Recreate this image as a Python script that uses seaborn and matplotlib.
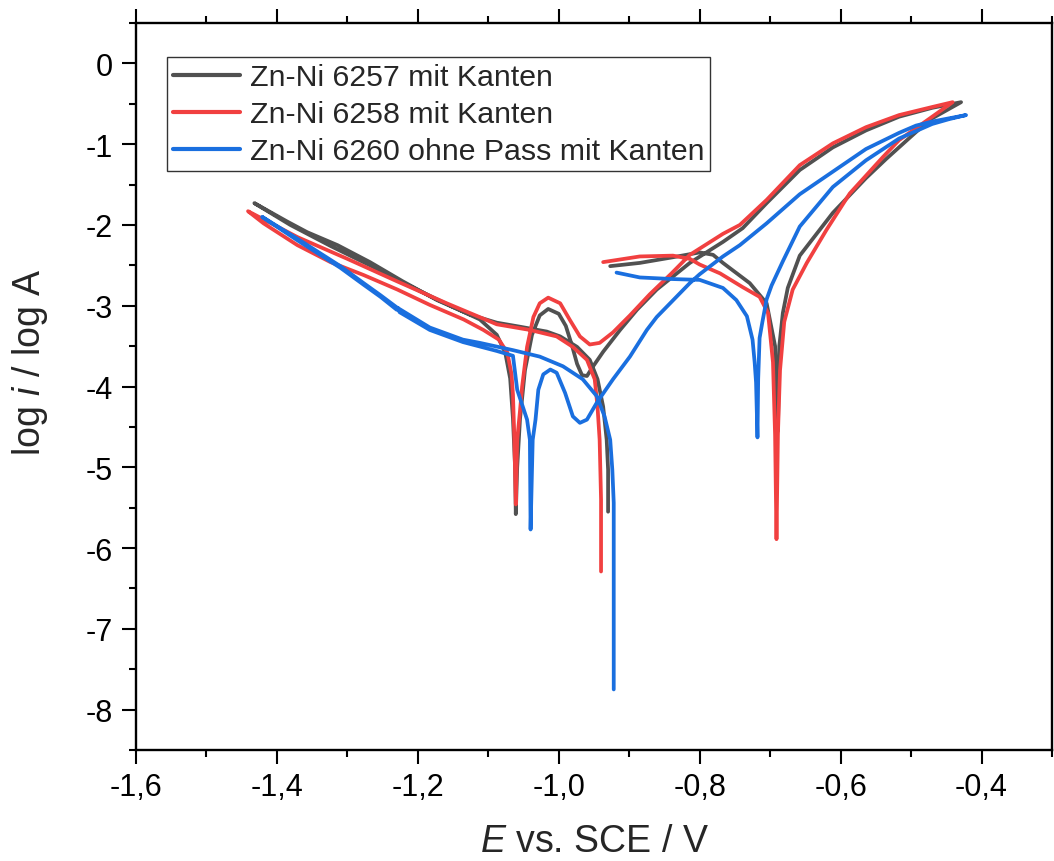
import numpy as np
import pandas as pd
import matplotlib
matplotlib.use("Agg")
import matplotlib.pyplot as plt
from matplotlib.ticker import MultipleLocator, FuncFormatter
import seaborn as sns

# Cyclic polarisation curves: OCP -> cathodic turn -> anodic turn -> back
e_6257 = [-0.930, -0.930, -0.932, -0.937, -0.945, -0.956, -0.974, -0.998, -1.017, -1.055,
          -1.088, -1.126, -1.173, -1.221, -1.268, -1.314, -1.357, -1.385, -1.432,
          -1.381, -1.324, -1.268, -1.211, -1.154, -1.112, -1.088, -1.076, -1.069, -1.065,
          -1.062, -1.061, -1.059, -1.055, -1.048, -1.038, -1.027, -1.015, -1.000, -0.990,
          -0.981, -0.974, -0.967, -0.960, -0.952, -0.937, -0.913, -0.889, -0.861, -0.814,
          -0.767, -0.739, -0.705, -0.658, -0.611, -0.564, -0.517, -0.470, -0.429,
          -0.470, -0.493, -0.535, -0.564, -0.611, -0.658, -0.675, -0.682, -0.687, -0.689,
          -0.693, -0.705, -0.729, -0.767, -0.781, -0.800, -0.838, -0.885, -0.927]
logi_6257 = [-5.55, -5.03, -4.66, -4.25, -3.91, -3.67, -3.51, -3.38, -3.32, -3.26,
             -3.21, -3.11, -2.93, -2.70, -2.46, -2.25, -2.09, -1.96, -1.73,
             -2.00, -2.26, -2.50, -2.76, -3.00, -3.17, -3.36, -3.58, -3.90, -4.40,
             -5.00, -5.58, -5.00, -4.40, -3.80, -3.36, -3.12, -3.04, -3.10, -3.25,
             -3.50, -3.72, -3.86, -3.87, -3.76, -3.57, -3.30, -3.05, -2.80, -2.47,
             -2.21, -2.04, -1.73, -1.32, -1.04, -0.83, -0.66, -0.55, -0.48,
             -0.68, -0.85, -1.18, -1.42, -1.85, -2.38, -2.78, -3.09, -3.50, -4.55,
             -3.50, -2.97, -2.72, -2.47, -2.37, -2.34, -2.40, -2.47, -2.51]

e_6258 = [-0.940, -0.940, -0.942, -0.945, -0.949, -0.960, -0.980, -1.003, -1.041, -1.088,
          -1.159, -1.229, -1.300, -1.371, -1.441,
          -1.419, -1.371, -1.324, -1.277, -1.229, -1.183, -1.135, -1.107, -1.085, -1.073,
          -1.067, -1.065, -1.063, -1.061, -1.059, -1.055, -1.052, -1.045, -1.036, -1.027,
          -1.015, -0.998, -0.984, -0.970, -0.956, -0.942, -0.923, -0.899, -0.871, -0.840,
          -0.814, -0.767, -0.743, -0.705, -0.658, -0.611, -0.564, -0.517, -0.470, -0.441,
          -0.470, -0.517, -0.540, -0.587, -0.620, -0.648, -0.668, -0.680, -0.686, -0.689,
          -0.691, -0.693, -0.696, -0.703, -0.715, -0.739, -0.771, -0.800, -0.814, -0.838,
          -0.885, -0.937]
logi_6258 = [-6.29, -5.40, -4.66, -4.25, -3.91, -3.67, -3.51, -3.38, -3.30, -3.23,
             -2.97, -2.70, -2.42, -2.15, -1.83,
             -1.98, -2.25, -2.46, -2.62, -2.80, -2.99, -3.17, -3.30, -3.42, -3.58,
             -3.85, -4.10, -4.66, -5.46, -4.66, -4.30, -4.00, -3.51, -3.14, -2.97,
             -2.90, -2.97, -3.18, -3.38, -3.48, -3.46, -3.33, -3.12, -2.86, -2.60,
             -2.37, -2.11, -2.00, -1.69, -1.26, -0.99, -0.79, -0.64, -0.54, -0.48,
             -0.66, -0.95, -1.16, -1.61, -2.06, -2.47, -2.80, -3.20, -3.80, -4.60,
             -5.89, -4.60, -3.70, -3.09, -2.89, -2.77, -2.60, -2.49, -2.42, -2.38,
             -2.39, -2.46]

e_6260 = [-0.922, -0.922, -0.922, -0.924, -0.927, -0.935, -0.946, -0.966, -0.994, -1.027,
          -1.065, -1.112, -1.136, -1.183, -1.230, -1.253, -1.277, -1.310, -1.371, -1.421,
          -1.371, -1.310, -1.277, -1.253, -1.230, -1.228, -1.226, -1.183, -1.136, -1.088,
          -1.065, -1.059, -1.045, -1.041, -1.040, -1.037, -1.033, -1.029, -1.022, -1.012,
          -1.003, -0.991, -0.980, -0.970, -0.960, -0.946, -0.923, -0.899, -0.875, -0.861,
          -0.814, -0.800, -0.767, -0.743, -0.705, -0.658, -0.611, -0.564, -0.517, -0.493,
          -0.470, -0.422,
          -0.446, -0.470, -0.517, -0.564, -0.611, -0.658, -0.682, -0.698, -0.705, -0.711,
          -0.715, -0.717, -0.718, -0.720, -0.722, -0.725, -0.733, -0.748, -0.767, -0.800,
          -0.838, -0.885, -0.918]
logi_6260 = [-7.75, -6.60, -5.44, -5.03, -4.66, -4.37, -4.12, -3.91, -3.75, -3.63,
             -3.55, -3.46, -3.42, -3.27, -3.02, -2.87, -2.72, -2.51, -2.17, -1.90,
             -2.19, -2.53, -2.74, -2.89, -3.05, -3.03, -3.08, -3.30, -3.45, -3.56,
             -3.62, -4.04, -4.41, -4.66, -5.77, -4.66, -4.41, -4.04, -3.85, -3.79,
             -3.83, -4.08, -4.37, -4.45, -4.41, -4.20, -3.91, -3.63, -3.30, -3.14,
             -2.72, -2.61, -2.39, -2.25, -1.98, -1.62, -1.34, -1.06, -0.86, -0.77,
             -0.72, -0.64,
             -0.69, -0.75, -0.93, -1.20, -1.53, -2.02, -2.45, -2.75, -2.92, -3.20,
             -3.40, -3.91, -4.63, -3.95, -3.70, -3.42, -3.13, -2.93, -2.78, -2.68,
             -2.67, -2.65, -2.59]

labels = ["Zn-Ni 6257 mit Kanten", "Zn-Ni 6258 mit Kanten", "Zn-Ni 6260 ohne Pass mit Kanten"]
colors = ["#515151", "#F14040", "#1A6FDF"]
x_ticks = [-1.6, -1.4, -1.2, -1.0, -0.8, -0.6, -0.4]
y_ticks = [0, -1, -2, -3, -4, -5, -6, -7, -8]

frames = []
for lab, e, li in zip(labels, [e_6257, e_6258, e_6260], [logi_6257, logi_6258, logi_6260]):
    frames.append(pd.DataFrame({"E": e, "logi": li, "Probe": lab, "idx": np.arange(len(e))}))
df = pd.concat(frames, ignore_index=True)

sns.set_style("ticks")
plt.rcParams["font.family"] = ["Liberation Sans", "DejaVu Sans"]
plt.rcParams["mathtext.fontset"] = "custom"
plt.rcParams["mathtext.rm"] = "Liberation Sans"
plt.rcParams["mathtext.it"] = "Liberation Sans:italic"
plt.rcParams["axes.unicode_minus"] = False

fig = plt.figure(figsize=(10.54, 8.62), dpi=100)
ax = fig.add_axes([136 / 1054, 111 / 862, 916 / 1054, 727 / 862])

sns.lineplot(data=df, x="E", y="logi", hue="Probe", hue_order=labels,
             palette=dict(zip(labels, colors)), sort=False, estimator=None,
             linewidth=2.7, ax=ax)
for ln in ax.get_lines():
    ln.set_solid_joinstyle("round")
    ln.set_solid_capstyle("round")

ax.set_xlim(-1.6, -0.3)
ax.set_ylim(-8.5, 0.5)
ax.set_xticks(x_ticks)
ax.set_yticks(y_ticks)
ax.xaxis.set_minor_locator(MultipleLocator(0.1))
ax.yaxis.set_minor_locator(MultipleLocator(0.5))
ax.xaxis.set_major_formatter(FuncFormatter(lambda v, p: f"{v:.1f}".replace(".", ",")))
ax.yaxis.set_major_formatter(FuncFormatter(lambda v, p: f"{v:.0f}"))

for s in ax.spines.values():
    s.set_visible(True)
    s.set_linewidth(1.7)
    s.set_color("black")
ax.tick_params(which="both", direction="out", width=1.5, colors="black",
               top=True, bottom=True, left=True, right=False, labeltop=False)
ax.tick_params(which="major", length=10, labelsize=22)
ax.tick_params(which="minor", length=5)
ax.tick_params(axis="x", which="major", pad=6)
ax.tick_params(axis="y", which="major", pad=7)

ax.set_xlabel(r"$\mathit{E}$ vs. SCE / V", fontsize=27, labelpad=15)
ax.set_ylabel(r"log $\mathit{i}$ / log A", fontsize=27, labelpad=14)
ax.yaxis.set_label_coords(-0.094, 0.535)

leg = ax.legend(loc="upper left", bbox_to_anchor=(0.034, 0.953), frameon=True,
                fontsize=21.8, handlelength=2.2, handletextpad=0.33,
                borderpad=0.2, labelspacing=0.3, borderaxespad=0, fancybox=False)
leg.get_frame().set_edgecolor("black")
leg.get_frame().set_linewidth(1.0)
for h in leg.get_lines():
    h.set_linewidth(3.0)

fig.savefig("out.png", dpi=100)
